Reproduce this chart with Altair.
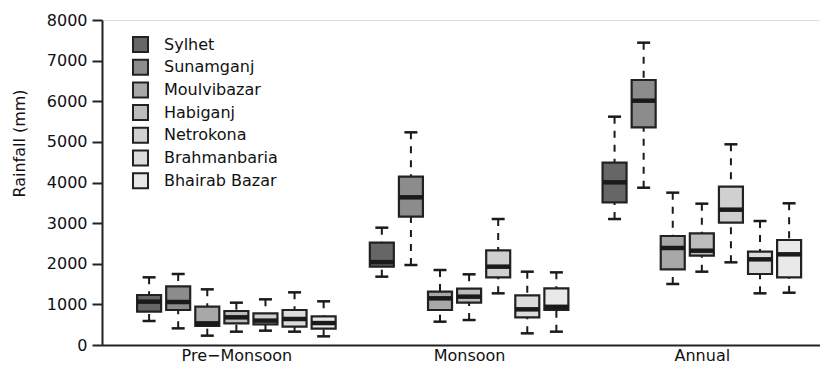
import altair as alt
import pandas as pd

stations = ["Sylhet", "Sunamganj", "Moulvibazar", "Habiganj", "Netrokona", "Brahmanbaria", "Bhairab Bazar"]
seasons = ["Pre\u2212Monsoon", "Monsoon", "Annual"]
fills = ["#666666", "#8c8c8c", "#a8a8a8", "#bcbcbc", "#d0d0d0", "#dcdcdc", "#e9e9e9"]

# per season, per station (in station order)
whisker_low = [
    [591, 410, 230, 328, 353, 328, 213],
    [1682, 1969, 574, 615, 1272, 287, 328],
    [3101, 3872, 1502, 1805, 2035, 1272, 1287],
]
q1 = [
    [820, 862, 468, 533, 509, 451, 402],
    [1930, 3159, 862, 1042, 1666, 681, 862],
    [3512, 5358, 1863, 2199, 3011, 1748, 1666],
]
median = [
    [1067, 1058, 533, 681, 600, 640, 540],
    [2040, 3635, 1149, 1190, 1928, 878, 940],
    [4004, 6014, 2388, 2322, 3331, 2109, 2232],
]
q3 = [
    [1231, 1444, 944, 837, 779, 862, 706],
    [2519, 4143, 1313, 1387, 2330, 1223, 1395],
    [4488, 6523, 2683, 2749, 3897, 2297, 2585],
]
whisker_high = [
    [1666, 1748, 1370, 1042, 1124, 1296, 1075],
    [2888, 5235, 1846, 1740, 3101, 1805, 1788],
    [5620, 7442, 3750, 3479, 4940, 3052, 3488],
]

rows = []
for si, season in enumerate(seasons):
    for ti, st in enumerate(stations):
        rows.append({
            "season": season,
            "station": st,
            "pos": si * 8 + ti + 1,
            "lo": whisker_low[si][ti],
            "q1": q1[si][ti],
            "med": median[si][ti],
            "q3": q3[si][ti],
            "hi": whisker_high[si][ti],
        })
df = pd.DataFrame(rows)

FONT = "DejaVu Sans"
x_scale = alt.Scale(domain=[-0.447, 23.89], nice=False, zero=False)
y_scale = alt.Scale(domain=[0, 8000], nice=False)

x_axis = alt.Axis(
    values=[4, 12, 20],
    labelExpr="datum.value == 4 ? 'Pre\u2212Monsoon' : datum.value == 12 ? 'Monsoon' : 'Annual'",
    ticks=False, grid=False, title=None, domainColor="#222", domainWidth=2,
    labelFontSize=16, labelFont=FONT, labelColor="#111", labelPadding=2,
)
y_axis = alt.Axis(
    values=list(range(0, 8001, 1000)), format="d", grid=False, title="Rainfall (mm)",
    tickSize=10, tickColor="#222", tickWidth=2, domainColor="#222", domainWidth=2,
    labelFontSize=16, labelFont=FONT, labelColor="#111", labelPadding=5,
    titleFontSize=16, titleFont=FONT, titleFontWeight="normal", titleColor="#111",
    titleX=-83, titleY=123, titleAngle=-90, titleAlign="center", titleBaseline="middle",
)

base = alt.Chart(df)
X = alt.X("pos:Q", scale=x_scale, axis=x_axis)

upper = base.mark_rule(strokeDash=[7, 7], strokeWidth=2, color="#1a1a1a").encode(
    x=X, y=alt.Y("hi:Q", scale=y_scale, axis=y_axis), y2="q3:Q")
lower = base.mark_rule(strokeDash=[7, 7], strokeWidth=2, color="#1a1a1a").encode(
    x=X, y=alt.Y("lo:Q", scale=y_scale), y2="q1:Q")
boxes = base.mark_bar(size=24, stroke="#222", strokeWidth=2.2).encode(
    x=X, y=alt.Y("q1:Q", scale=y_scale), y2="q3:Q",
    fill=alt.Fill("station:N", scale=alt.Scale(domain=stations, range=fills), sort=stations,
                  legend=alt.Legend(
                      orient="none", legendX=30, legendY=16, title=None,
                      symbolType="square", symbolSize=225, symbolStrokeColor="#222",
                      symbolStrokeWidth=2, symbolOpacity=1, labelFontSize=16, labelFont=FONT,
                      labelColor="#111", labelOffset=15, rowPadding=-0.3, padding=0,
                  )),
)
meds = base.mark_tick(orient="horizontal", size=24, thickness=4.5, color="#1a1a1a", opacity=1).encode(
    x=X, y=alt.Y("med:Q", scale=y_scale))
cap_hi = base.mark_tick(orient="horizontal", size=13, thickness=2.5, color="#1a1a1a", opacity=1).encode(
    x=X, y=alt.Y("hi:Q", scale=y_scale))
cap_lo = base.mark_tick(orient="horizontal", size=13, thickness=2.5, color="#1a1a1a", opacity=1).encode(
    x=X, y=alt.Y("lo:Q", scale=y_scale))

chart = alt.layer(upper, lower, boxes, meds, cap_hi, cap_lo).properties(
    width=718, height=325,
    autosize=alt.AutoSizeParams(type="none"),
    padding={"left": 94, "top": 12, "right": 0, "bottom": 19},
).configure_view(stroke=None).configure(background="white")

chart.save("out.html", embed_options={"renderer": "svg", "actions": False})
